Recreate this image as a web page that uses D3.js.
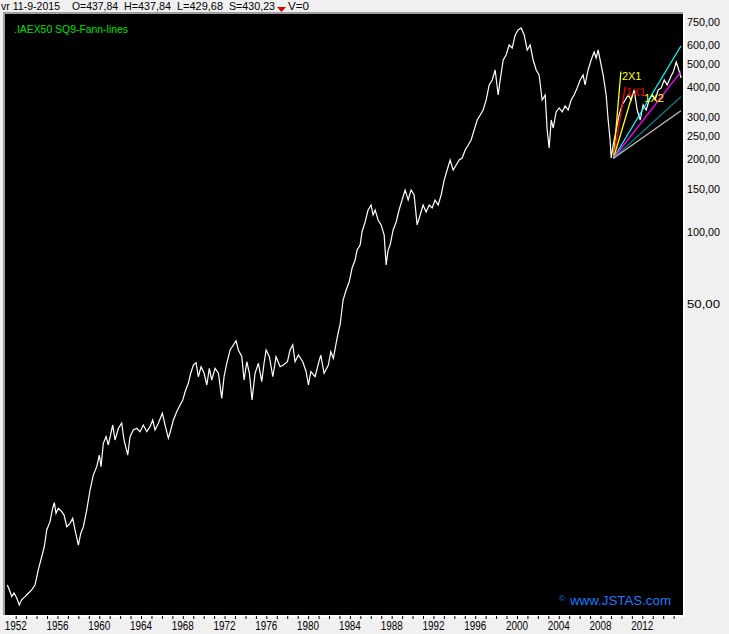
<!DOCTYPE html>
<html><head><meta charset="utf-8">
<script src="https://cdn.jsdelivr.net/npm/d3@7"></script>
<style>
body{margin:0;background:#f0f0f0;overflow:hidden;}
svg{display:block;}
text{font-family:"Liberation Sans",Arial,sans-serif;}
</style>
</head><body>
<script>
// ---- data (decimal year, index value) ----
const dates = [
1951.20,1951.45,1951.62,1951.84,1952.10,1952.34,1952.57,1952.89,1953.21,1953.53,1953.85,1954.16,1954.49,1954.74,1954.97,
1955.29,1955.54,1955.70,1955.86,1956.08,1956.41,1956.63,1956.89,1957.20,1957.46,1957.68,1958.00,1958.23,1958.48,1958.80,
1959.12,1959.43,1959.76,1960.01,1960.17,1960.39,1960.65,1960.87,1961.29,1961.51,1961.83,1962.15,1962.37,1962.73,1962.95,
1963.26,1963.59,1963.91,1964.22,1964.55,1964.86,1965.12,1965.34,1965.66,1966.04,1966.30,1966.62,1966.85,1967.10,1967.42,
1967.74,1968.00,1968.22,1968.53,1968.76,1969.01,1969.27,1969.49,1969.75,1970.04,1970.30,1970.54,1970.77,1971.09,1971.41,
1971.73,1971.95,1972.21,1972.53,1972.84,1973.10,1973.32,1973.65,1973.87,1974.13,1974.38,1974.63,1974.92,1975.24,1975.56,
1975.78,1975.98,1976.29,1976.62,1976.93,1977.32,1977.63,1978.02,1978.27,1978.53,1978.75,1979.07,1979.49,1979.81,1980.03,
1980.26,1980.67,1980.99,1981.21,1981.53,1981.94,1982.17,1982.42,1982.68,1982.90,
1983.06,1983.35,1983.64,1983.93,1984.21,1984.50,1984.69,1984.98,1985.17,1985.46,1985.74,1986.03,1986.22,1986.42,1986.70,
1986.99,1987.28,1987.47,1987.66,1987.85,1988.14,1988.43,1988.71,1989.00,1989.29,1989.58,1989.86,1990.15,1990.44,1990.73,
1991.01,1991.30,1991.59,1991.88,1992.16,1992.45,1992.74,1993.03,1993.31,1993.60,1993.89,1994.18,1994.46,1994.75,1995.04,
1995.33,1995.61,1995.90,1996.19,1996.48,1996.76,1997.05,1997.34,1997.63,1997.91,1998.20,1998.39,1998.68,1998.96,1999.25,
1999.54,1999.83,2000.11,2000.40,2000.69,2000.98,2001.26,2001.55,2001.84,2002.12,2002.41,2002.70,2002.89,2003.08,2003.28,
2003.47,2003.75,2004.04,2004.33,2004.61,2004.90,2005.19,2005.47,2005.76,2006.05,2006.33,2006.52,2006.81,2007.10,2007.39,
2007.58,2007.77,2007.96,2008.25,2008.54,2008.73,2008.92,2009.02,2009.21,2009.50,2009.78,2010.07,2010.36,2010.65,2010.93,2011.22,
2011.51,2011.80,2012.08,2012.37,2012.66,2012.95,2013.23,2013.52,2013.81,2014.10,2014.38,2014.67,2014.96,2015.25,2015.44,
2015.63,2015.73];
const values = [
3.33,3.13,2.98,3.09,2.94,2.75,2.89,2.98,3.08,3.18,3.33,3.85,4.37,4.81,5.65,
6.12,6.96,7.34,6.63,6.96,6.73,6.52,5.83,6.02,6.32,5.65,4.89,5.47,5.83,6.84,
8.29,9.57,10.37,11.60,10.37,12.98,13.83,12.77,15.47,13.40,14.99,15.73,13.40,11.60,13.83,
14.75,14.99,14.51,15.47,14.51,15.22,16.23,14.75,15.73,17.32,15.47,13.62,14.75,16.23,17.58,
18.75,19.66,21.29,23.08,25.41,27.50,28.13,24.58,27.06,25.41,22.71,26.65,23.82,26.65,25.41,
19.98,24.58,27.97,31.77,33.33,34.72,31.77,29.78,23.82,28.39,25.41,19.66,25.41,27.97,23.44,
27.97,31.77,29.78,24.58,29.78,27.06,27.50,28.39,31.77,33.33,28.39,30.27,28.39,25.80,22.71,
25.80,24.58,27.97,30.27,25.41,27.50,31.26,29.33,33.88,37.86,
40.38,51.32,56.49,60.99,69.76,75.33,82.91,87.0,99.1,108.5,121.7,127.7,116.0,121.7,110.6,
105.5,95.8,71.8,82.9,87.0,100.5,108.5,121.7,134.0,147.5,134.0,147.5,140.6,105.5,116.0,
127.7,119.4,127.7,124.3,134.0,127.7,140.6,162.3,178.7,196.7,178.7,187.5,196.7,200.5,216.5,
227.2,238.3,262.3,288.7,302.9,317.8,349.9,404.4,423.9,466.6,367.1,423.9,513.5,538.8,593.0,
576.0,652.6,684.8,698.0,652.6,565.2,593.0,513.5,466.6,444.8,349.9,367.1,262.3,220.7,288.7,
267.4,311.8,324.0,311.8,330.2,317.8,349.9,367.1,392.6,423.9,444.8,404.4,466.6,513.5,554.4,
523.5,565.2,513.5,444.8,367.1,288.7,238.3,200.5,227.2,262.3,302.9,333.4,349.9,367.1,349.9,385.1,
317.8,288.7,333.4,317.8,349.9,367.1,349.9,385.1,392.6,423.9,404.4,432.1,457.8,503.8,475.6,
444.8,432.1];

// ---- axis labels ----
const yTickValues = [750,600,500,400,300,250,200,150,100,50];
const xLabelYears = [1952,1956,1960,1964,1968,1972,1976,1980,1984,1988,1992,1996,2000,2004,2008,2012];
const xTickYears = d3.range(1952, 2016);

// ---- Gann fan (origin + end points) ----
const fanOriginDate = 2009.24, fanOriginValue = 200.0;
const fanEndDates  = [2009.95, 2010.37, 2011.04, 2015.70, 2015.70, 2015.70, 2015.70];
const fanEndValues = [459.1, 397.4, 367.1, 587.2, 459.1, 361.1, 315.7];
const fanLabels    = ["2X1", "1X1", "1X2", "", "", "", ""];

// ---- header ----
const headerDate = "vr 11-9-2015";
const headerO = "437,84", headerH = "437,84", headerL = "429,68", headerS = "430,23", headerV = "0";

const W = 729, H = 634;
const plot = {l:5, t:14, r:683, b:615};
const fanColors = ["#ffff00","#ff0000","#ffff00","#00ffff","#ff00ff","#008080","#c0c0c0"];

const svg = d3.select("body").append("svg").attr("width", W).attr("height", H);
svg.append("rect").attr("width", W).attr("height", H).attr("fill", "#f0f0f0");

const x = d3.scaleLinear().domain([1952, 2012]).range([15.7, 642.3]);
const y = d3.scaleLog().domain([50, 100]).range([302.74, 230.5]);

// frame
svg.append("rect").attr("x", 3).attr("y", 12).attr("width", plot.r - 3 + 2).attr("height", plot.b - 12 + 2).attr("fill", "#ffffff");
svg.append("rect").attr("x", 3).attr("y", 12).attr("width", plot.r - 3).attr("height", plot.b - 12).attr("fill", "#a0a0a0");
svg.append("rect").attr("x", plot.l).attr("y", plot.t).attr("width", plot.r - plot.l).attr("height", plot.b - plot.t).attr("fill", "#000000");

svg.append("clipPath").attr("id", "clip").append("rect")
  .attr("x", plot.l).attr("y", plot.t).attr("width", plot.r - plot.l).attr("height", plot.b - plot.t);
const g = svg.append("g").attr("clip-path", "url(#clip)");

// price line
const series = dates.map((d, i) => ({date: d, value: values[i]}));
g.append("path").datum(series)
  .attr("fill", "none").attr("stroke", "#ffffff").attr("stroke-width", 1.2)
  .attr("d", d3.line().x(d => x(d.date)).y(d => y(d.value)));

// fan lines
fanEndDates.forEach((ed, i) => {
  g.append("line")
    .attr("x1", x(fanOriginDate)).attr("y1", y(fanOriginValue))
    .attr("x2", x(ed)).attr("y2", y(fanEndValues[i]))
    .attr("stroke", fanColors[i]).attr("stroke-width", 1.3);
});
// fan labels
const labelOffsets = [[1, 8], [1, 9], [12, 7]];
fanLabels.forEach((lab, i) => {
  if (!lab) return;
  g.append("text").attr("x", x(fanEndDates[i]) + labelOffsets[i][0]).attr("y", y(fanEndValues[i]) + labelOffsets[i][1])
    .attr("fill", fanColors[i]).attr("font-size", 11).text(lab);
});

// title in plot
svg.append("text").attr("x", 14).attr("y", 33).attr("fill", "#00e000")
  .attr("font-size", 11).attr("textLength", 114).attr("lengthAdjust", "spacingAndGlyphs")
  .text(".IAEX50 SQ9-Fann-lines");

// watermark
svg.append("text").attr("x", 559).attr("y", 601).attr("fill", "#1e7bff").attr("font-size", 8).text("©");
svg.append("text").attr("x", 570).attr("y", 605).attr("fill", "#1e7bff")
  .attr("font-size", 13).attr("textLength", 101).attr("lengthAdjust", "spacingAndGlyphs")
  .text("www.JSTAS.com");

// right axis labels
const ya = svg.append("g");
yTickValues.forEach(v => {
  ya.append("text").attr("x", 687).attr("y", y(v) + 5).attr("fill", "#000")
    .attr("font-size", 11).attr("textLength", 33).attr("lengthAdjust", "spacingAndGlyphs")
    .text(d3.format(".2f")(v).replace(".", ","));
});

// bottom axis
const xAxis = d3.axisBottom(x).tickValues(xTickYears).tickSize(3).tickFormat("");
const xa = svg.append("g").attr("transform", `translate(0,${plot.b + 1})`).call(xAxis);
xa.select(".domain").remove();
xa.selectAll(".tick line").attr("stroke", "#000");
xLabelYears.forEach(yr => {
  svg.append("text").attr("x", x(yr)).attr("y", 630).attr("text-anchor", "middle")
    .attr("fill", "#000").attr("font-size", 12)
    .attr("textLength", 22).attr("lengthAdjust", "spacingAndGlyphs").text(yr);
});

// header
const hdr = [
  {t: headerDate, x: 1, w: 59},
  {t: "O=" + headerO, x: 72, w: 46},
  {t: "H=" + headerH, x: 124, w: 47},
  {t: "L=" + headerL, x: 177, w: 46},
  {t: "S=" + headerS, x: 229, w: 46},
  {t: "V=" + headerV, x: 288, w: 21}
];
hdr.forEach(h => {
  svg.append("text").attr("x", h.x).attr("y", 10).attr("fill", "#000").attr("font-size", 11)
    .attr("textLength", h.w).attr("lengthAdjust", "spacingAndGlyphs").text(h.t);
});
svg.append("path").attr("d", "M277,7 L286,7 L281.5,12 Z").attr("fill", "#e00000");
</script>
</body></html>
